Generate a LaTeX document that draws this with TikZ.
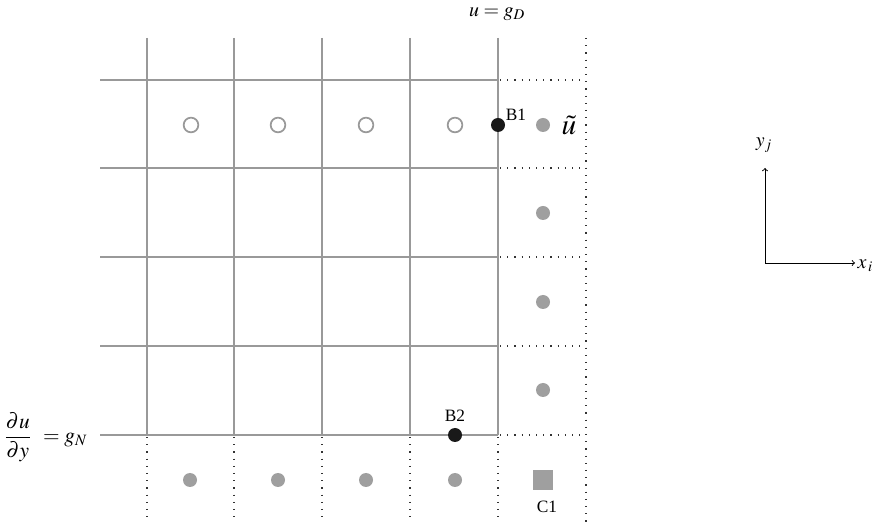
\documentclass[tikz,border=0pt]{standalone}
\usepackage{amsmath}
\usepackage{mathptmx}
\usepackage{fontspec}
\setmainfont{Liberation Serif}
\usetikzlibrary{positioning}

\begin{document}
\begin{tikzpicture}[x=0.75pt, y=-0.75pt, >=to, every node/.style={font=\fontsize{13}{15}\selectfont},
  gridline/.style={draw=gray!80, line width=0.8pt},
  bndline/.style={draw=black!80, line width=0.9pt, dash pattern=on 0.9pt off 4.5pt},
  ghost/.style={circle, draw=gray!80, line width=1.3pt, minimum size=11pt, inner sep=0pt},
  cellpt/.style={circle, fill=gray!75, minimum size=10.5pt, inner sep=0pt},
  bndpt/.style={circle, fill=black!90, minimum size=10.5pt, inner sep=0pt},
  mathlbl/.style={font=\fontsize{15}{18}\selectfont}]
\useasboundingbox (0,0) rectangle (878,523);

% Grid lines inside the domain
\foreach \x in {147,234,322,410,498} {
  \draw[gridline] (\x,38) -- (\x,435);
  \draw[bndline] (\x,437) -- (\x,522);
}
\foreach \y in {80,168,257,346,435} {
  \draw[gridline] (100,\y) -- (498,\y);
  \draw[bndline] (500,\y) -- (586,\y);
}
\draw[bndline] (586,38) -- (586,522);

% Ghost points in the top row
\foreach \x/\name in {191/g1,278/g2,366/g3,455/g4}
  \node[ghost] (\name) at (\x,125) {};

% Cell points
\foreach \y/\name in {125/r1,213/r2,302/r3,390/r4}
  \node[cellpt] (\name) at (543,\y) {};
\foreach \x/\name in {190/s1,278/s2,366/s3,455/s4}
  \node[cellpt] (\name) at (\x,480) {};

% Boundary points
\node[bndpt] (b1) at (498,125) {};
\node at (516,115) (b1_lbl) {B1};
\node[bndpt] (b2) at (455,435) {};
\node at (455,416) (b2_lbl) {B2};

% Corner cell
\node[rectangle, fill=gray!75, minimum size=15pt, inner sep=0pt] (c1) at (543,480) {};
\node at (547,507) (c1_lbl) {C1};

% Labels
\node[font=\fontsize{22}{24}\selectfont, inner sep=0pt] at (569,125) (ut) {$\tilde{u}$};
\node[mathlbl] at (497,14) (gd) {$u = g_D$};
\node[mathlbl, anchor=east, font=\fontsize{16}{19}\selectfont] at (92,437) (gn) {$\dfrac{\partial u}{\partial y}\;\, = g_N$};

% Axes
\coordinate (origin) at (765,263);
\node[mathlbl, anchor=south] at (764,157) (yj) {$y_j$};
\node[mathlbl, anchor=west] at (853,266) (xi) {$x_{\,i}$};
\draw[->, line width=0.7pt] (origin) -- (765,168);
\draw[->, line width=0.7pt] (origin) -- (855,263);

\end{tikzpicture}
\end{document}
